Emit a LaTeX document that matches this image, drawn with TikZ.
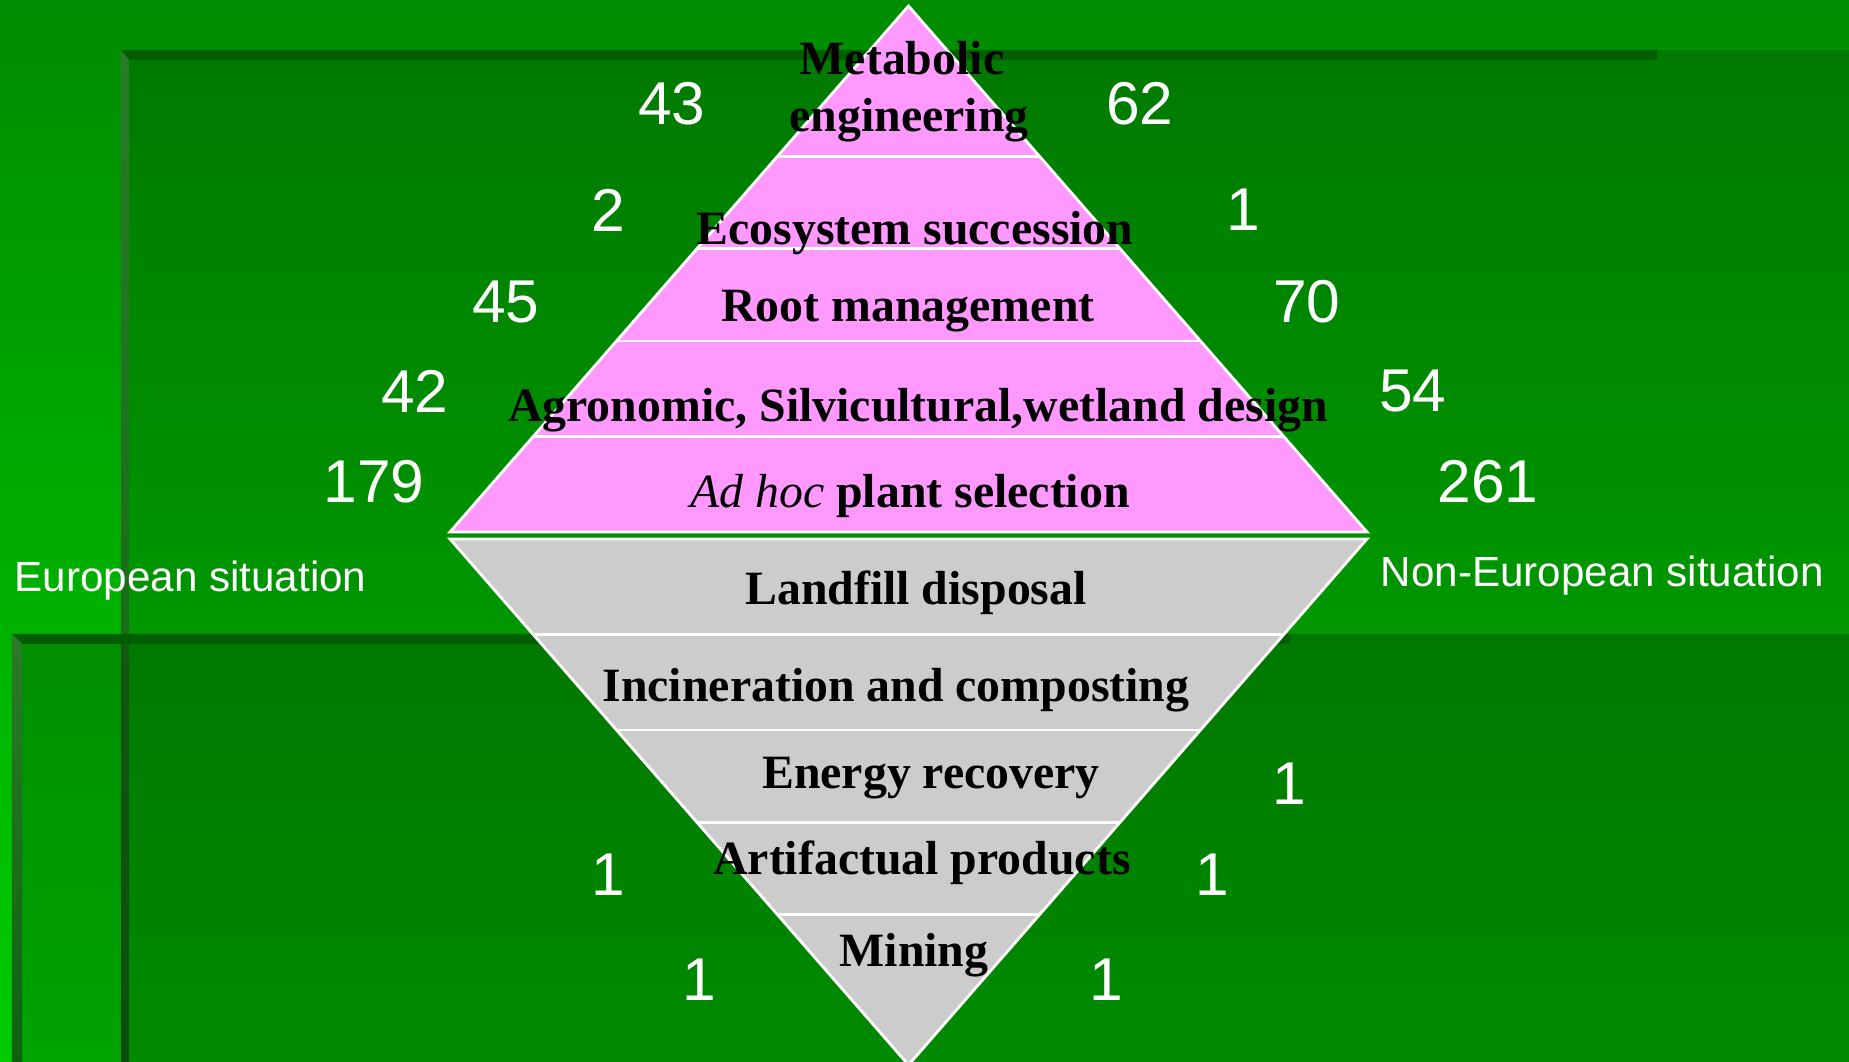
\documentclass[tikz,border=0pt]{standalone}
\usepackage{fontspec}
\setmainfont{Liberation Serif}
\setsansfont{Liberation Sans}
\usepackage{tikz}
\usetikzlibrary{calc}
\definecolor{bgtop}{HTML}{008C00}
\definecolor{bgbot}{HTML}{00CC00}
\definecolor{rim}{HTML}{005E00}
\definecolor{bevtop}{HTML}{2A7A2A}
\definecolor{bevbot}{HTML}{0E620E}
\definecolor{plantpk}{HTML}{FF99FF}
\definecolor{wastegy}{HTML}{CCCCCC}

\begin{document}
\begin{tikzpicture}[
  lbl/.style={font=\fontsize{13.6}{16}\selectfont\bfseries,text=black,anchor=base,inner sep=0pt},
  num/.style={font=\sffamily\fontsize{17.2}{20}\selectfont,text=white,inner sep=0pt},
  sit/.style={font=\sffamily\fontsize{12}{14}\selectfont,text=white,anchor=base west,inner sep=0pt},
  rimline/.style={draw=white,line width=0.8pt}]
  \useasboundingbox (0,0) rectangle (18.49,10.62);
  \shade[top color=bgtop,bottom color=bgbot] (0,0) rectangle (18.49,10.62);
  \fill[black,fill opacity=0.15] (1.21,0) rectangle (18.49,10.12);
  \fill[rim] (1.21,10.12) -- (16.57,10.12) -- (16.57,10.02) -- (1.29,10.02) -- cycle;
  \shade[top color=bevtop,bottom color=bevbot] (1.21,10.12) -- (1.29,10.02) -- (1.29,0) -- (1.21,0) -- cycle;
  \fill[black,fill opacity=0.2] (0.12,0) rectangle (18.49,4.28);
  \fill[rim] (0.12,4.28) -- (12.9,4.28) -- (12.9,4.18) -- (0.22,4.18) -- cycle;
  \shade[top color=bevtop,bottom color=bevbot] (0.12,4.28) -- (0.22,4.18) -- (0.22,0) -- (0.12,0) -- cycle;

  \coordinate (ptop) at (9.085,10.56);
  \coordinate (pl) at (4.50,5.30);
  \coordinate (pr) at (13.67,5.30);
  \coordinate (gbot) at (9.085,-0.03);
  \coordinate (gl) at (4.50,5.23);
  \coordinate (gr) at (13.67,5.23);
  \filldraw[fill=plantpk,rimline] (ptop) -- (pl) -- (pr) -- cycle;
  \filldraw[fill=wastegy,rimline] (gbot) -- (gl) -- (gr) -- cycle;
  \foreach \t in {0.286,0.4615,0.637,0.818}{
    \draw[rimline] ($(ptop)!\t!(pl)$) -- ($(ptop)!\t!(pr)$);
    \draw[rimline] ($(gbot)!\t!(gl)$) -- ($(gbot)!\t!(gr)$);
  }

  \node[lbl] (meta)   at (9.02,9.87) {Metabolic};
  \node[lbl] (eng)    at (9.09,9.30) {engineering};
  \node[lbl] (eco)    at (9.15,8.17) {Ecosystem succession};
  \node[lbl] (root)   at (9.08,7.40) {Root management};
  \node[lbl] (agro)   at (9.18,6.40) {Agronomic, Silvicultural,wetland design};
  \node[lbl] (adhoc)  at (9.10,5.54) {{\mdseries\itshape Ad hoc} plant selection};
  \node[lbl] (landf)  at (9.16,4.57) {Landfill disposal};
  \node[lbl] (incin)  at (8.96,3.60) {Incineration and composting};
  \node[lbl] (energy) at (9.31,2.73) {Energy recovery};
  \node[lbl] (artif)  at (9.22,1.87) {Artifactual products};
  \node[lbl] (mining) at (9.14,0.95) {Mining};

  \node[num] (eu1) at (6.72,9.58) {43};
  \node[num] (ne1) at (11.40,9.58) {62};
  \node[num] (eu2) at (6.08,8.52) {2};
  \node[num] (ne2) at (12.43,8.52) {1};
  \node[num] (eu3) at (5.06,7.60) {45};
  \node[num] (ne3) at (13.07,7.60) {70};
  \node[num] (eu4) at (4.15,6.71) {42};
  \node[num] (ne4) at (14.13,6.71) {54};
  \node[num] (eu5) at (3.74,5.80) {179};
  \node[num] (ne5) at (14.88,5.80) {261};
  \node[num] (ne6) at (12.89,2.78) {1};
  \node[num] (eu6) at (6.08,1.87) {1};
  \node[num] (ne7) at (12.12,1.87) {1};
  \node[num] (eu7) at (6.99,0.82) {1};
  \node[num] (ne8) at (11.06,0.82) {1};

  \node[sit] (eusit) at (0.14,4.70) {European situation};
  \node[sit] (nesit) at (13.80,4.75) {Non-European situation};
\end{tikzpicture}
\end{document}
